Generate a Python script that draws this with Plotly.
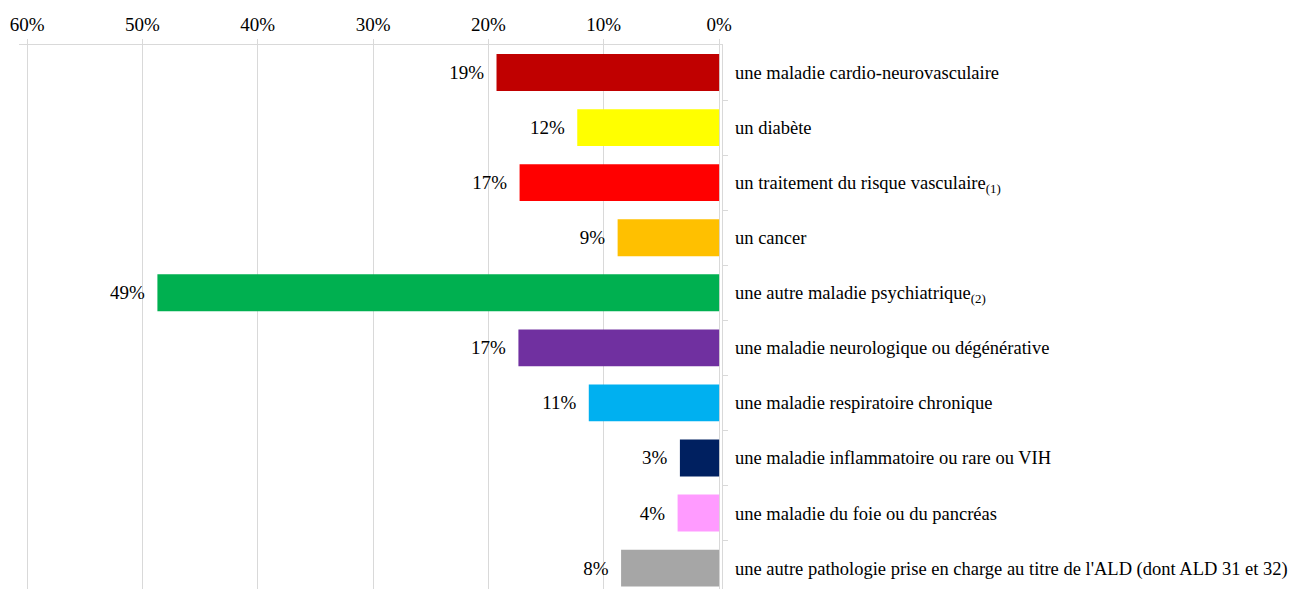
import plotly.graph_objects as go

categories = [
    "une maladie cardio-neurovasculaire",
    "un diabète",
    "un traitement du risque vasculaire<sub>(1)</sub>",
    "un cancer",
    "une autre maladie psychiatrique<sub>(2)</sub>",
    "une maladie neurologique ou dégénérative",
    "une maladie respiratoire chronique",
    "une maladie inflammatoire ou rare ou VIH",
    "une maladie du foie ou du pancréas",
    "une autre pathologie prise en charge au titre de l'ALD (dont ALD 31 et 32)",
]
values = [19.3, 12.3, 17.3, 8.8, 48.7, 17.4, 11.3, 3.4, 3.6, 8.5]
colors = ["#C00000", "#FFFF00", "#FF0000", "#FFC000", "#00B050",
          "#7030A0", "#00B0F0", "#002060", "#FF9BFF", "#A6A6A6"]
x_ticks = [60, 50, 40, 30, 20, 10, 0]

FONT = "Liberation Serif"
idx = list(range(len(categories)))

fig = go.Figure()
fig.add_trace(go.Bar(
    x=values, y=idx, orientation="h",
    marker=dict(color=colors, line=dict(width=0)),
    width=0.67,
    text=[f"{round(v)}%\u00a0\u00a0" for v in values],
    textposition="outside",
    textfont=dict(family=FONT, size=19, color="#000000"),
    cliponaxis=False,
    hoverinfo="skip",
))

yrange = [len(categories) - 1 + 0.38, -0.5]

fig.update_layout(
    width=1291, height=581,
    margin=dict(l=11, r=577, t=37, b=0),
    paper_bgcolor="white", plot_bgcolor="white",
    showlegend=False,
    font=dict(family=FONT, size=19, color="#000000"),
    xaxis=dict(
        side="top", range=[60.7, -0.25],
        tickvals=x_ticks, ticktext=[f"{t}%" for t in x_ticks],
        showgrid=True, gridcolor="#D9D9D9", gridwidth=1,
        showline=True, linecolor="#D9D9D9", linewidth=1,
        ticks="outside", ticklen=5, tickcolor="#D9D9D9",
        zeroline=False,
        tickfont=dict(family=FONT, size=19, color="#000000"),
    ),
    yaxis=dict(
        side="right", range=yrange,
        tickvals=idx, ticktext=categories,
        showgrid=False, zeroline=False, showline=False,
        ticks="", ticklabelstandoff=12,
        tickfont=dict(family=FONT, size=18.5, color="#000000"),
    ),
    yaxis2=dict(
        overlaying="y", side="right", range=yrange,
        tickvals=[i + 0.5 for i in idx[:-1]],
        showticklabels=False, ticks="outside", ticklen=5,
        tickcolor="#D9D9D9", showgrid=False, zeroline=False,
        showline=True, linecolor="#D9D9D9", linewidth=1,
    ),
)
fig.add_trace(go.Scatter(x=[None], y=[None], yaxis="y2", showlegend=False, hoverinfo="skip"))

fig.write_html("out.html")
